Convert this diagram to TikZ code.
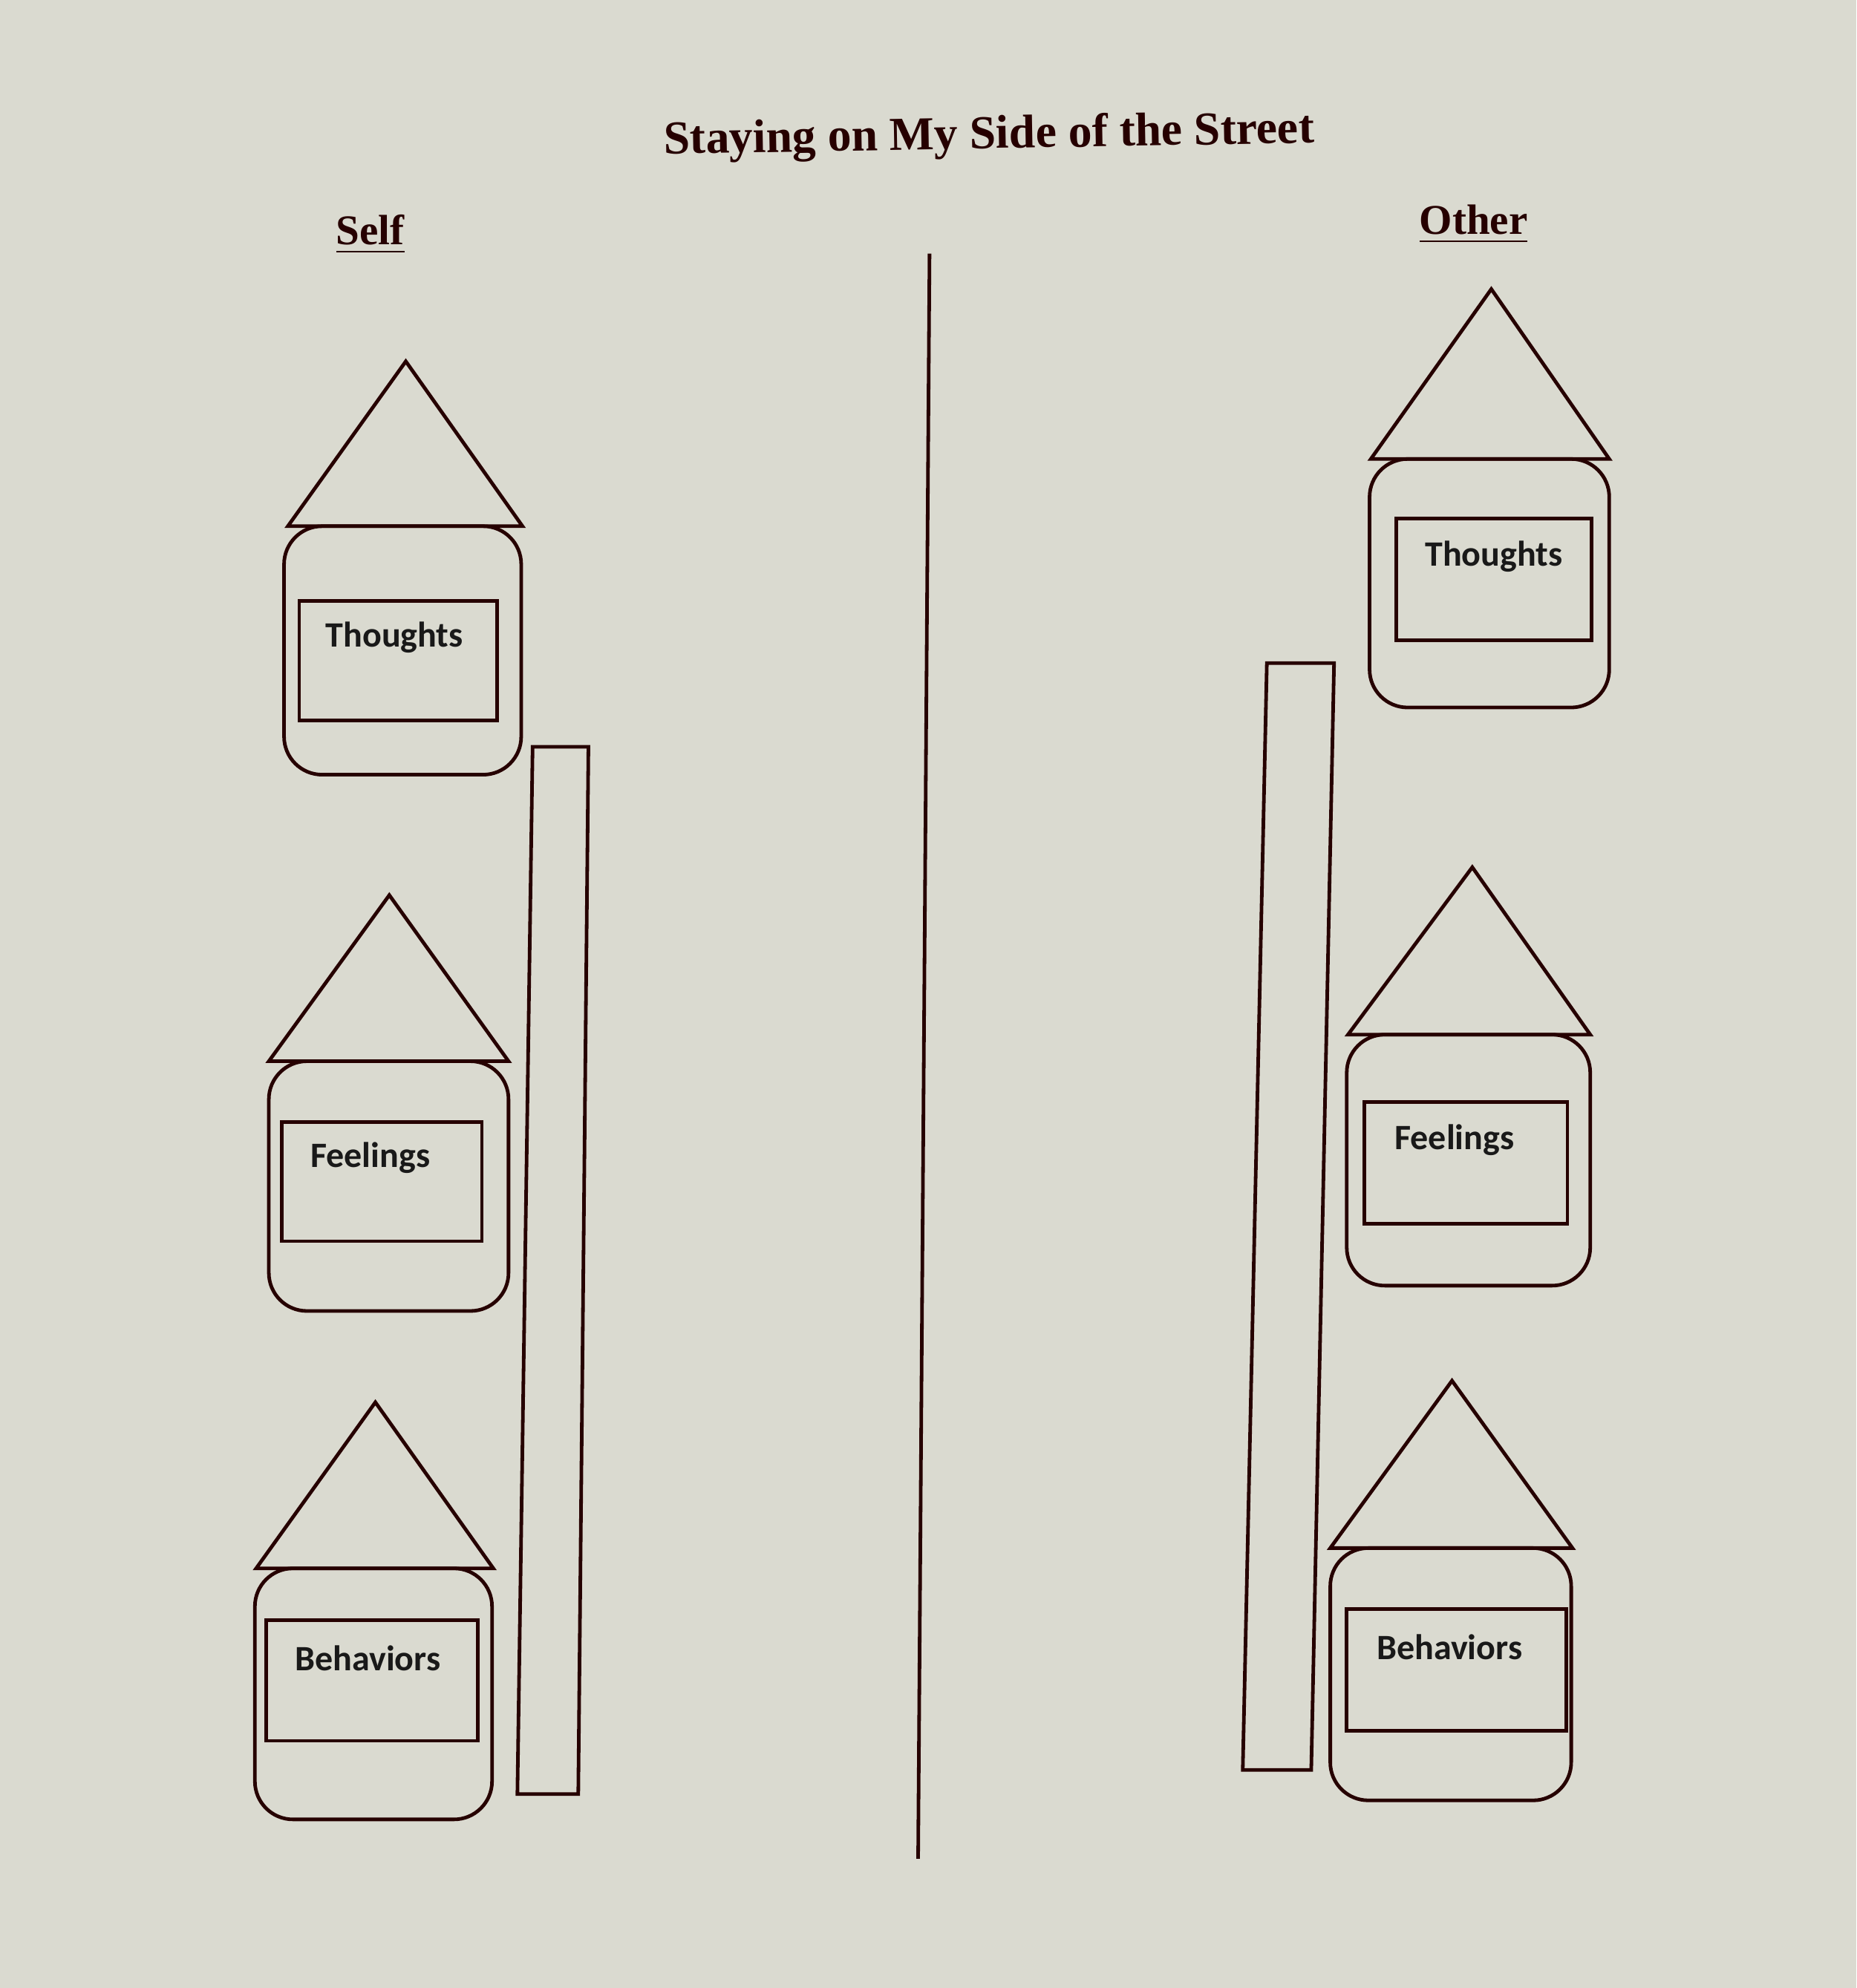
\documentclass[tikz,border=0pt]{standalone}
\usepackage{fontspec}
\setmainfont{Liberation Serif}
\newfontfamily\lab{Carlito}
\begin{document}
\begin{tikzpicture}[x=0.01cm,y=-0.01cm,
  ln/.style={draw=black!85!red, line width=0.8pt, line join=miter},
  box/.style={ln, rounded corners=0.3cm},
  lbl/.style={font=\lab\bfseries\fontsize{8}{9}\selectfont, text=black!90},
  head/.style={font=\bfseries\fontsize{9.5}{11}\selectfont, text=black!85!red}]
\fill[color={rgb,255:red,218;green,218;blue,208}] (0,0) rectangle (1464,1568);
\useasboundingbox (0,0) rectangle (1464,1568);
\node[head, font=\bfseries\fontsize{10.6}{12}\selectfont, rotate=1] (title) at (780,108) {Staying on My Side of the Street};
\node[head] (self) at (292,185) {\underline{Self}};
\node[head] (other) at (1162,177) {\underline{Other}};
\draw[ln] (733,200) -- (724,1466);
% Self
\draw[ln] (320,285) -- (227,415) -- (412,415) -- cycle;
\draw[box] (224,415) rectangle (411,611);
\draw[ln] (236,474) rectangle (392,568);
\node[lbl] (st) at (311,503) {Thoughts};
\draw[ln] (307,706) -- (212,837) -- (401,837) -- cycle;
\draw[box] (212,837) rectangle (401,1034);
\draw[ln] (222,885) rectangle (380,979);
\node[lbl] (sf) at (292,913) {Feelings};
\draw[ln] (296,1106) -- (202,1237) -- (389,1237) -- cycle;
\draw[box] (201,1237) rectangle (388,1435);
\draw[ln] (210,1278) rectangle (377,1373);
\node[lbl] (sb) at (290,1308) {Behaviors};
\draw[ln] (420,589) -- (464,589) -- (456,1415) -- (408,1415) -- cycle;
% Other
\draw[ln] (1176,228) -- (1081,362) -- (1269,362) -- cycle;
\draw[box] (1080,362) rectangle (1269,558);
\draw[ln] (1101,409) rectangle (1255,505);
\node[lbl] (ot) at (1178,439) {Thoughts};
\draw[ln] (1161,684) -- (1063,816) -- (1254,816) -- cycle;
\draw[box] (1062,816) rectangle (1254,1014);
\draw[ln] (1076,869) rectangle (1236,965);
\node[lbl] (of) at (1147,899) {Feelings};
\draw[ln] (1145,1089) -- (1049,1221) -- (1240,1221) -- cycle;
\draw[box] (1049,1221) rectangle (1239,1420);
\draw[ln] (1062,1269) rectangle (1235,1365);
\node[lbl] (ob) at (1143,1299) {Behaviors};
\draw[ln] (999,523) -- (1052,523) -- (1034,1396) -- (980,1396) -- cycle;
\end{tikzpicture}
\end{document}
